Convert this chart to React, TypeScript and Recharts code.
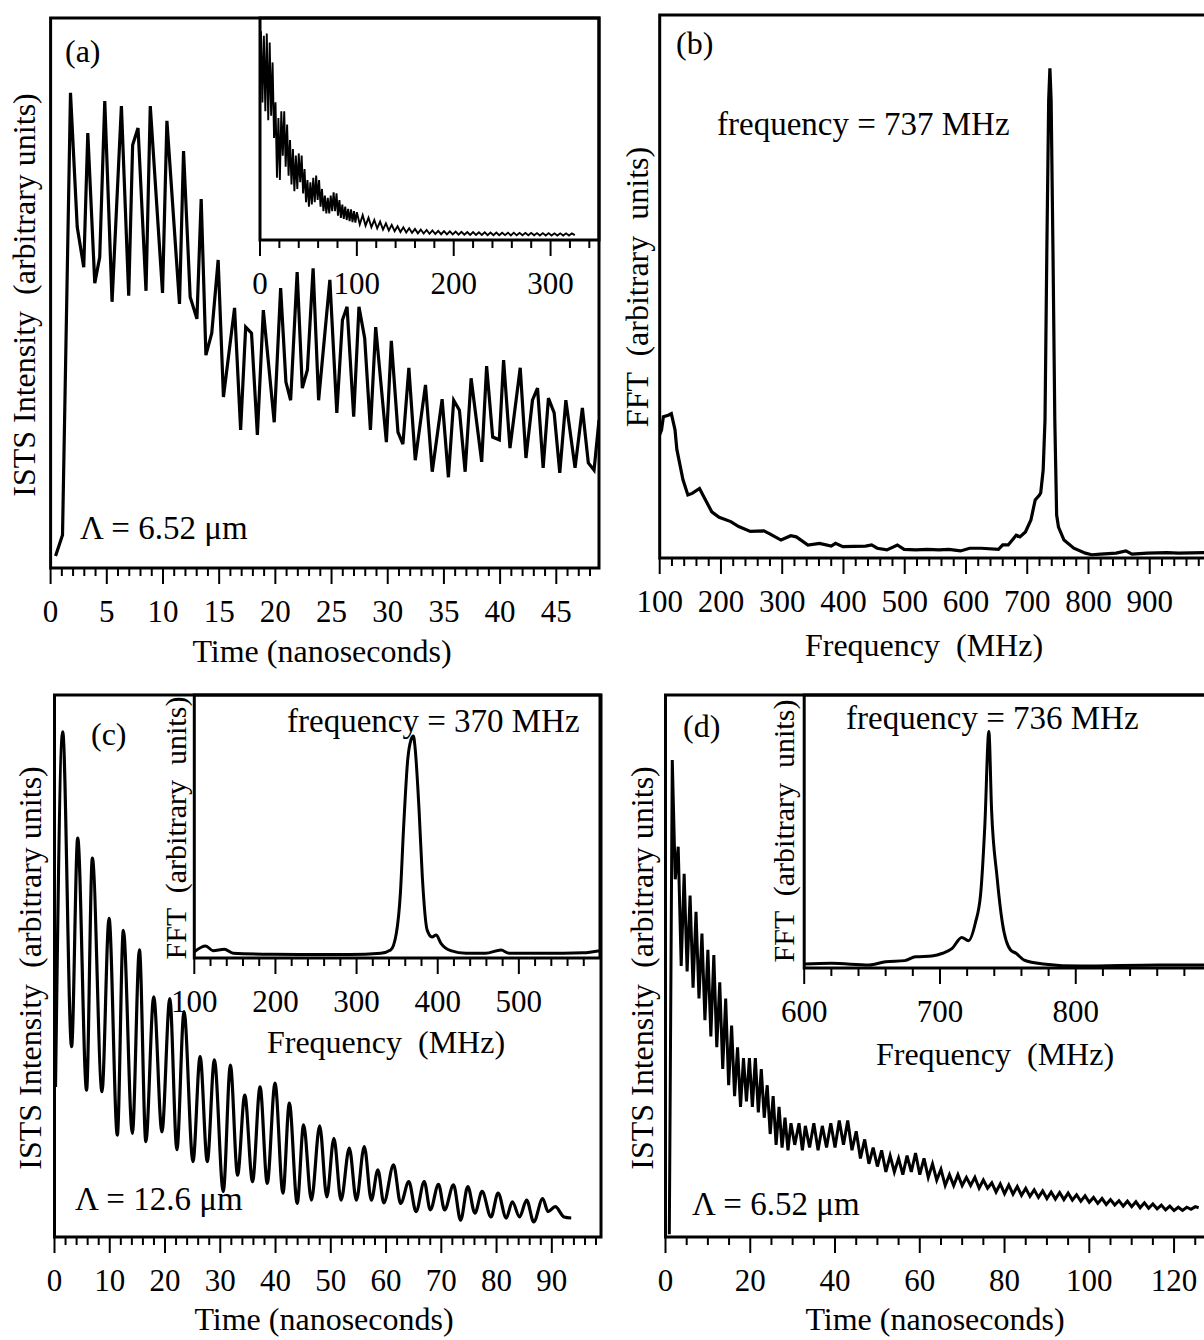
import React from 'react';
import { LineChart, Line, XAxis, YAxis, ReferenceArea } from 'recharts';

const FONT = '"Liberation Serif", "Times New Roman", serif';
const PAGE_W = 1204;
const PAGE_H = 1340;
const CANVAS_W = 1240;
const AXIS_H = 70;

// (a) ISTS signal, grating period 6.52 µm — [time ns, intensity]
const A_TRACE: [number, number][] = [
  [0.44, 2.2], [1.06, 6.0], [1.77, 86.4], [2.37, 62.0], [2.95, 54.7], [3.31, 79.1], [3.93, 51.8],
  [4.37, 56.5], [4.82, 84.9], [5.47, 48.4], [6.30, 84.0], [6.95, 49.5], [7.30, 76.9], [7.78, 80.0],
  [8.49, 50.4], [8.87, 84.0], [9.96, 50.0], [10.35, 81.3], [11.47, 48.0], [11.83, 75.8], [12.42, 49.3],
  [13.02, 45.3], [13.40, 67.1], [13.82, 38.7], [14.34, 42.7], [14.91, 56.0], [15.38, 31.1], [16.37, 47.3],
  [16.91, 25.1], [17.36, 43.8], [17.88, 42.7], [18.40, 24.2], [18.93, 46.9], [19.90, 26.5], [20.47, 50.9],
  [20.94, 33.8], [21.36, 30.5], [21.94, 53.8], [22.40, 32.7], [22.85, 36.0], [23.36, 54.5], [23.85, 30.5],
  [24.85, 52.4], [25.47, 28.2], [25.97, 45.1], [26.38, 47.5], [26.97, 27.5], [27.44, 47.5], [27.95, 41.8],
  [28.46, 25.1], [28.93, 43.8], [29.88, 22.9], [30.32, 41.3], [30.91, 24.7], [31.35, 22.5], [31.88, 36.4],
  [32.45, 19.6], [33.36, 33.3], [33.96, 17.5], [34.84, 30.7], [35.40, 16.5], [35.87, 30.5], [36.38, 28.7],
  [36.89, 17.5], [37.42, 34.5], [38.36, 19.3], [38.80, 36.7], [39.34, 23.8], [39.93, 23.3], [40.31, 37.8],
  [40.88, 21.8], [41.79, 36.4], [42.30, 20.0], [42.88, 30.5], [43.33, 32.7], [43.83, 18.2], [44.30, 30.9],
  [44.81, 28.2], [45.31, 17.3], [45.85, 30.5], [46.67, 18.2], [47.32, 29.1], [47.85, 19.1], [48.36, 17.8],
  [48.8, 26.9],
];

// (a) inset: the full 325 ns record, sampled every 1.5 ns from 1 ns, then every 3 ns from 103 ns
const A_INSET_EARLY_START = 1;
const A_INSET_EARLY_STEP = 1.5;
const A_INSET_EARLY = [
  94, 62, 92, 58, 93, 54, 89, 56, 80, 46, 62, 28, 55, 27, 58, 38, 58, 33, 52, 29,
  45, 25, 41, 22, 38, 23, 39, 26, 38, 21, 32, 17, 27, 15, 26, 16, 28, 17, 29, 18,
  27, 15, 23, 13, 20, 12, 19, 12, 20, 13, 21.5, 13, 21, 11, 18, 10, 16, 9.5, 15, 9,
  14, 8.5, 13.8, 8, 13, 7.8, 12.5,
];
const A_INSET_LATE_START = 103;
const A_INSET_LATE_STEP = 3;
const A_INSET_LATE = [
  7, 11.2, 6.5, 10, 5.8, 9, 5.2, 8.3, 4.7, 7.5, 4.3, 6.8, 4, 6.2, 3.6, 5.7, 3.4, 5.3, 3.2, 5,
  3, 4.7, 2.9, 4.5, 2.8, 4.3, 2.7, 4.1, 2.6, 4, 2.5, 3.9, 2.5, 3.8, 2.4, 3.7, 2.4, 3.6, 2.3, 3.6,
  2.3, 3.5, 2.3, 3.5, 2.2, 3.4, 2.2, 3.4, 2.2, 3.3, 2.2, 3.3, 2.1, 3.3, 2.1, 3.2, 2.1, 3.2, 2.1, 3.2,
  2.1, 3.1, 2.0, 3.1, 2.0, 3.1, 2.0, 3.0, 2.0, 3.0, 2.0, 3.0, 2.0, 3.0, 2.2,
];

// (b) FFT of the (a) signal — [frequency MHz, amplitude]
const B_SPECTRUM: [number, number][] = [
  [100, 22.7], [103, 23.6], [106, 26.0], [114, 26.3], [119, 26.6], [125, 23.6], [128, 20.0], [138, 14.4],
  [146, 11.6], [153, 11.9], [165, 12.8], [172, 11.3], [185, 8.5], [197, 7.5], [216, 6.7], [229, 5.8],
  [248, 4.9], [270, 5.0], [279, 4.5], [298, 3.3], [314, 4.1], [323, 3.9], [342, 2.4], [361, 2.7],
  [380, 2.2], [387, 2.7], [399, 2.1], [436, 2.2], [446, 2.4], [455, 1.8], [471, 1.5], [488, 2.4],
  [499, 1.6], [518, 1.5], [537, 1.6], [556, 1.5], [572, 1.6], [591, 1.3], [606, 1.8], [625, 1.8],
  [653, 1.6], [660, 2.4], [669, 2.4], [682, 4.2], [688, 3.9], [697, 4.8], [706, 7.0], [713, 10.7],
  [720, 11.6], [722, 12.0], [726, 16.2], [729, 25.4], [732, 56.7], [735, 84.3], [737, 90.2], [739, 84.3],
  [742, 56.7], [745, 25.4], [748, 7.9], [751, 5.7], [760, 3.3], [776, 1.8], [795, 0.9], [805, 0.6],
  [820, 0.7], [845, 0.9], [861, 1.3], [871, 0.7], [896, 0.9], [928, 1.0], [947, 0.9], [989, 1.0],
  [1010, 0.9],
];

// (c) ISTS signal, grating period 12.6 µm — [time ns, intensity]
const C_TRACE: [number, number][] = [
  [0.18, 27.7], [1.48, 93.2], [3.09, 35.1], [4.20, 73.6], [5.80, 27.1], [6.85, 69.9], [8.59, 26.8],
  [9.87, 58.8], [11.37, 18.8], [12.46, 56.6], [14.09, 19.1], [15.37, 53.0], [16.53, 17.6], [17.96, 44.3],
  [19.44, 19.4], [20.87, 44.0], [22.15, 16.1], [23.44, 41.6], [25.06, 13.9], [26.35, 33.3], [27.65, 13.9],
  [28.93, 32.7], [30.54, 8.4], [31.83, 31.7], [33.13, 11.4], [34.43, 26.2], [35.84, 10.2], [37.20, 27.7],
  [38.50, 9.9], [39.91, 28.4], [41.34, 8.1], [42.50, 24.7], [43.92, 6.2], [45.08, 20.7], [46.49, 6.8],
  [47.99, 20.5], [49.28, 7.4], [50.56, 18.2], [51.86, 6.8], [53.35, 16.4], [54.63, 6.8], [56.06, 16.7],
  [57.34, 6.8], [58.52, 12.4], [59.60, 6.3], [61.36, 13.3], [62.64, 6.2], [64.12, 10.2], [65.43, 4.7],
  [66.91, 10.2], [68.01, 5.0], [69.49, 9.7], [70.60, 5.0], [72.21, 9.6], [73.49, 3.1], [74.79, 9.3],
  [76.08, 4.4], [77.38, 8.4], [78.99, 3.7], [80.27, 8.1], [81.75, 3.5], [82.86, 6.5], [84.16, 3.7],
  [85.44, 6.8], [86.73, 2.8], [88.35, 7.1], [89.31, 4.7], [90.61, 5.6], [92.22, 3.7], [93.51, 3.5],
];

// (c) inset: FFT of the (c) signal — [frequency MHz, amplitude]
const C_INSET: [number, number][] = [
  [100, 2.4], [114, 4.6], [123, 2.8], [137, 3.3], [148, 1.8], [196, 1.4], [244, 1.3], [291, 1.3],
  [330, 1.8], [342, 3.0], [349, 9.4], [354, 24.7], [358, 49.9], [363, 75.3], [367, 82.9], [370, 84.4],
  [372, 80.3], [377, 56.3], [381, 31.0], [387, 10.6], [393, 8.0], [398, 8.7], [404, 5.6], [416, 2.8],
  [435, 1.8], [459, 1.8], [478, 3.0], [488, 1.8], [531, 1.8], [579, 2.0], [600, 2.8],
];

// (d) ISTS signal, grating period 6.52 µm, long record — [time ns, intensity]
const D_TRACE: [number, number][] = [
  [0.9, 0.5], [1.6, 88], [2.3, 66], [3.0, 72], [3.7, 50], [4.4, 67], [5.1, 49], [5.8, 63], [6.5, 46],
  [7.2, 60], [7.9, 44], [8.6, 56], [9.3, 40], [10.0, 53], [10.7, 37], [11.4, 52], [12.1, 35], [12.8, 47],
  [13.5, 31], [14.2, 44], [14.9, 28], [15.6, 39], [16.3, 26], [17.0, 35], [17.7, 24], [18.4, 33],
  [19.1, 25], [19.8, 33], [20.5, 24], [21.2, 33], [21.9, 23], [22.6, 31], [23.3, 22], [24.0, 28],
  [24.7, 19], [25.4, 26], [26.1, 17], [26.8, 24], [27.5, 16.5], [28.2, 22], [28.9, 16], [29.6, 21],
  [30.5, 17], [31.5, 21], [32.3, 16], [33, 20.5], [34, 16.5], [35, 21], [36, 16], [37, 20.5], [38, 16.5],
  [39, 21], [40, 16.5], [41, 21.5], [42, 17], [43, 21.5], [44, 16], [45, 19.5], [46, 14.5], [47, 18],
  [48, 13.5], [49, 16.5], [50, 13], [51, 16], [52, 12], [53, 15], [54, 12], [55, 14.5], [56, 11.5],
  [57, 15], [58, 12], [59, 15.5], [60, 11.5], [61, 14.5], [62, 11], [63, 13.5], [64, 10.5], [65, 12.5],
  [66, 9.5], [67, 11.5], [68, 9.5], [69, 11.5], [70, 9.5], [71, 11], [72, 9.5], [73, 11], [74, 9],
  [75, 10.5], [76, 9], [77, 10], [78, 8.3], [79, 9.8], [80, 8], [81, 9.6], [82, 7.9], [83, 9.3],
  [84, 7.7], [85, 9], [86, 7.5], [87, 8.7], [88, 7.3], [89, 8.5], [90, 7.1], [91, 8.3], [92, 7],
  [93, 8.2], [94, 6.9], [95, 8.1], [96, 6.8], [97, 7.8], [98, 6.6], [99, 7.6], [100, 6.4], [101, 7.3],
  [102, 6.2], [103, 7.1], [104, 6], [105, 6.9], [106, 5.9], [107, 6.7], [108, 5.7], [109, 6.6],
  [110, 5.6], [111, 6.5], [112, 5.4], [113, 6.3], [114, 5.3], [115, 6.1], [116, 5.2], [117, 5.9],
  [118, 5], [119, 5.7], [120, 4.9], [121, 5.5], [122, 4.9], [123, 5.5], [124, 5.1], [125, 5.6],
  [125.8, 5.4],
];

// (d) inset: FFT of the (d) signal — [frequency MHz, amplitude]
const D_INSET: [number, number][] = [
  [600, 1.5], [620, 1.7], [648, 1.1], [660, 2.3], [674, 2.7], [682, 4.1], [694, 4.4], [702, 5.4],
  [709, 7.2], [716, 11.2], [721, 10.0], [726, 16.4], [730, 27.4], [733, 51.8], [736, 86.6], [738, 57.9],
  [742, 33.5], [746, 16.4], [752, 6.6], [756, 5.4], [762, 2.9], [776, 1.5], [804, 0.7], [861, 1.1],
  [894, 1.1], [913, 1.1],
];

// axis tick labels
const A_LABELS = [0, 5, 10, 15, 20, 25, 30, 35, 40, 45];
const A_INSET_LABELS = [0, 100, 200, 300];
const B_LABELS = [100, 200, 300, 400, 500, 600, 700, 800, 900];
const C_LABELS = [0, 10, 20, 30, 40, 50, 60, 70, 80, 90];
const C_INSET_LABELS = [100, 200, 300, 400, 500];
const D_LABELS = [0, 20, 40, 60, 80, 100, 120];
const D_INSET_LABELS = [600, 700, 800];

const toRows = (pairs: [number, number][]) => pairs.map(([t, v]) => ({ t, v }));
const sampled = (start: number, step: number, values: number[]) =>
  values.map((v, i) => ({ t: +(start + i * step).toFixed(3), v }));

const A_INSET_ROWS = [
  ...sampled(A_INSET_EARLY_START, A_INSET_EARLY_STEP, A_INSET_EARLY),
  ...sampled(A_INSET_LATE_START, A_INSET_LATE_STEP, A_INSET_LATE),
];

function AxisTick(props: any) {
  const { x, y, payload, majorStep, origin, labels } = props;
  const v = payload.value;
  const r = (v - origin) / majorStep;
  const major = Math.abs(r - Math.round(r)) < 1e-6;
  const show = major && labels.includes(v);
  return (
    <g>
      <line x1={x} x2={x} y1={y} y2={y + (major ? 16 : 8)} stroke="#000" strokeWidth={2} />
      {show && (
        <text x={x} y={y + 54} textAnchor="middle" fontFamily={FONT} fontSize={31} fill="#000">
          {v}
        </text>
      )}
    </g>
  );
}

type PanelProps = {
  x0: number; x1: number; y0: number; y1: number;
  domain: [number, number];
  minorStep: number; majorStep: number; tickEnd: number;
  labels: number[];
  rows: { t: number; v: number }[];
  width: number;
  curve: 'linear' | 'monotone';
};

function Panel({ x0, x1, y0, y1, domain, minorStep, majorStep, tickEnd, labels, rows, width, curve }: PanelProps) {
  const ticks: number[] = [];
  for (let k = 0; domain[0] + k * minorStep <= tickEnd + 1e-9; k++) {
    ticks.push(+(domain[0] + k * minorStep).toFixed(4));
  }
  return (
    <div style={{ position: 'absolute', left: 0, top: 0 }}>
      <LineChart
        width={CANVAS_W}
        height={PAGE_H}
        data={rows}
        margin={{ left: x0, top: y0, right: CANVAS_W - x1, bottom: PAGE_H - y1 - AXIS_H }}
      >
        <XAxis
          dataKey="t"
          type="number"
          domain={domain}
          ticks={ticks}
          interval={0}
          allowDataOverflow
          axisLine={false}
          tickLine={false}
          tickSize={0}
          tickMargin={0}
          height={AXIS_H}
          tick={<AxisTick majorStep={majorStep} origin={domain[0]} labels={labels} />}
        />
        <YAxis type="number" domain={[0, 100]} hide width={0} allowDataOverflow />
        <ReferenceArea
          x1={domain[0]}
          x2={domain[1]}
          y1={0}
          y2={100}
          fill="none"
          fillOpacity={0}
          stroke="#000"
          strokeWidth={3}
          ifOverflow="visible"
        />
        <Line
          type={curve}
          dataKey="v"
          stroke="#000"
          strokeWidth={width}
          dot={false}
          isAnimationActive={false}
          strokeLinejoin="miter"
        />
      </LineChart>
    </div>
  );
}

const txt = { fontFamily: FONT, fill: '#000', whiteSpace: 'pre' as const };

function VLabel({ x, y, size, children }: { x: number; y: number; size: number; children: string }) {
  return (
    <text transform={`translate(${x},${y}) rotate(-90)`} textAnchor="middle" fontSize={size} style={txt}>
      {children}
    </text>
  );
}

export default function App() {
  return (
    <div
      style={{
        position: 'absolute', left: 0, top: 0, width: PAGE_W, height: PAGE_H,
        overflow: 'hidden', background: '#fff',
      }}
    >
      <Panel x0={50.6} x1={599} y0={18} y1={568} domain={[0, 48.8]} minorStep={1} majorStep={5}
        tickEnd={48} labels={A_LABELS} rows={toRows(A_TRACE)} width={3.2} curve="linear" />
      <Panel x0={260} x1={599} y0={18} y1={240} domain={[0, 350]} minorStep={20} majorStep={100}
        tickEnd={340} labels={A_INSET_LABELS} rows={A_INSET_ROWS} width={1.9} curve="linear" />
      <Panel x0={659.7} x1={1230} y0={15} y1={558} domain={[100, 1031]} minorStep={20} majorStep={100}
        tickEnd={1020} labels={B_LABELS} rows={toRows(B_SPECTRUM)} width={3.2} curve="linear" />
      <Panel x0={54.5} x1={601} y0={695} y1={1237} domain={[0, 98.9]} minorStep={2} majorStep={10}
        tickEnd={98} labels={C_LABELS} rows={toRows(C_TRACE)} width={3.2} curve="monotone" />
      <Panel x0={194.3} x1={600} y0={695} y1={958} domain={[100, 600]} minorStep={20} majorStep={100}
        tickEnd={580} labels={C_INSET_LABELS} rows={toRows(C_INSET)} width={3} curve="monotone" />
      <Panel x0={665.5} x1={1230} y0={695} y1={1237} domain={[0, 133.2]} minorStep={5} majorStep={20}
        tickEnd={130} labels={D_LABELS} rows={toRows(D_TRACE)} width={3} curve="linear" />
      <Panel x0={804.2} x1={1230} y0={695} y1={968} domain={[600, 913.6]} minorStep={20} majorStep={100}
        tickEnd={900} labels={D_INSET_LABELS} rows={toRows(D_INSET)} width={3} curve="monotone" />

      <svg width={PAGE_W} height={PAGE_H} style={{ position: 'absolute', left: 0, top: 0 }}>
        {/* panel letters */}
        <text x={65} y={62} fontSize={32} style={txt}>(a)</text>
        <text x={676} y={54} fontSize={32} style={txt}>(b)</text>
        <text x={91} y={745} fontSize={32} style={txt}>(c)</text>
        <text x={683} y={737} fontSize={32} style={txt}>(d)</text>

        {/* annotations */}
        <text x={80} y={539} fontSize={33} style={txt}>Λ = 6.52 μm</text>
        <text x={717} y={135} fontSize={33} style={txt}>frequency = 737 MHz</text>
        <text x={287} y={732} fontSize={33} style={txt}>frequency = 370 MHz</text>
        <text x={75} y={1210} fontSize={33} style={txt}>Λ = 12.6 μm</text>
        <text x={846} y={729} fontSize={33} style={txt}>frequency = 736 MHz</text>
        <text x={692} y={1215} fontSize={33} style={txt}>Λ = 6.52 μm</text>

        {/* axis titles */}
        <text x={322} y={662} textAnchor="middle" fontSize={32} style={txt}>Time (nanoseconds)</text>
        <text x={924} y={656} textAnchor="middle" fontSize={32} style={txt}>Frequency  (MHz)</text>
        <text x={324} y={1330} textAnchor="middle" fontSize={32} style={txt}>Time (nanoseconds)</text>
        <text x={386} y={1053} textAnchor="middle" fontSize={32} style={txt}>Frequency  (MHz)</text>
        <text x={935} y={1330} textAnchor="middle" fontSize={32} style={txt}>Time (nanoseconds)</text>
        <text x={995} y={1065} textAnchor="middle" fontSize={32} style={txt}>Frequency  (MHz)</text>

        {/* vertical axis titles */}
        <VLabel x={35} y={295} size={32}>ISTS Intensity  (arbitrary units)</VLabel>
        <VLabel x={648} y={287} size={32}>FFT  (arbitrary  units)</VLabel>
        <VLabel x={41} y={968} size={32}>ISTS Intensity  (arbitrary units)</VLabel>
        <VLabel x={186} y={828} size={30}>FFT  (arbitrary  units)</VLabel>
        <VLabel x={653} y={968} size={32}>ISTS Intensity  (arbitrary units)</VLabel>
        <VLabel x={794} y={831} size={30}>FFT  (arbitrary  units)</VLabel>
      </svg>
    </div>
  );
}
